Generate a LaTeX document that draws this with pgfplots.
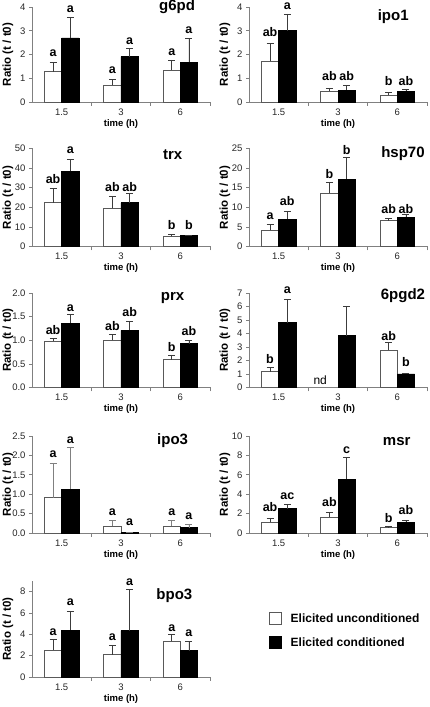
\documentclass[border=0pt]{standalone}
\usepackage{fontspec}
\setmainfont{Liberation Sans}
\usepackage{pgfplots}
\pgfplotsset{compat=1.18}
\definecolor{axgray}{RGB}{128,128,128}
\definecolor{errgray}{RGB}{60,60,60}
\pgfplotsset{
  panel/.style={
    scale only axis, width=178pt,
    xmin=0.5, xmax=3.5, ymin=0,
    axis x line*=bottom, axis y line*=left,
    axis line style={draw=axgray, line width=0.7pt, -},
    xtick={1,2,3}, xticklabels={1.5,3,6},
    major x tick style={draw=none},
    minor xtick={1.5,2.5,3.5},
    minor tick length=4pt, major tick length=3pt,
    tick align=outside,
    tick style={draw=axgray, line width=0.7pt},
    tick label style={font=\fontsize{9.5}{10}\selectfont, text=black!85},
    /pgf/number format/assume math mode=true,
    xlabel={time (h)},
    ylabel={Ratio (t / t0)},
    xlabel style={font=\bfseries\fontsize{9.5}{10}\selectfont, at={(axis description cs:0.5,0)}, anchor=center, yshift=-22pt},
    ylabel style={font=\bfseries\fontsize{11.5}{12}\selectfont, at={(axis description cs:-0.135,0.5)}, anchor=center},
    title style={font=\bfseries\fontsize{15}{16}\selectfont, anchor=center},
    clip=false,
  },
  ebar/.style={
    error bars/y dir=plus, error bars/y explicit,
    error bars/error bar style={#1, line width=0.6pt},
    error bars/error mark options={rotate=90, #1, mark size=3.5pt, line width=0.6pt}},
  wbar/.style={ybar, bar shift=0pt, bar width=0.29, fill=white, draw=black!65, line width=0.6pt, ebar=#1},
  wbar/.default=errgray,
  bbar/.style={ybar, bar shift=0pt, bar width=0.29, fill=black, draw=black, line width=0.6pt, ebar=#1},
  bbar/.default=errgray,
  lett/.style={only marks, mark=none, forget plot, nodes near coords, point meta=explicit symbolic,
    nodes near coords style={font=\bfseries\fontsize{12.5}{13}\selectfont, inner sep=0pt, text=black}},
}
\begin{document}
\begin{tikzpicture}
\path[use as bounding box] (0pt,0pt) rectangle (430pt,707pt);

% ---------- g6pd ----------
\begin{axis}[panel, at={(32pt,605pt)}, anchor=south west, height=95pt, ymax=4, ytick={0,1,2,3,4},
  title={g6pd}, title style={at={(axis description cs:0.815,0.937)}}]
\addplot[wbar] coordinates {(0.855,1.28) +- (0,0.38) (1.855,0.71) +- (0,0.25) (2.855,1.35) +- (0,0.42)};
\addplot[bbar] coordinates {(1.145,2.70) +- (0,0.85) (2.145,1.91) +- (0,0.33) (3.145,1.67) +- (0,1.01)};
\addplot[lett] coordinates {(0.855,1.91) [a] (1.145,3.75) [a] (1.855,1.18) [a] (2.145,2.40) [a] (2.855,1.94) [a] (3.145,2.86) [a]};
\end{axis}

% ---------- ipo1 ----------
\begin{axis}[panel, at={(249pt,605pt)}, anchor=south west, height=95pt, ymax=4, ytick={0,1,2,3,4},
  title={ipo1}, title style={at={(axis description cs:0.81,0.84)}}]
\addplot[wbar] coordinates {(0.855,1.73) +- (0,0.74) (1.855,0.46) +- (0,0.13) (2.855,0.29) +- (0,0.11)};
\addplot[bbar] coordinates {(1.145,3.00) +- (0,0.71) (2.145,0.50) +- (0,0.20) (3.145,0.45) +- (0,0.07)};
\addplot[lett] coordinates {(0.855,2.75) [ab] (1.145,3.89) [a] (1.855,0.89) [ab] (2.145,0.89) [ab] (2.855,0.70) [b] (3.145,0.70) [ab]};
\end{axis}

% ---------- trx ----------
\begin{axis}[panel, at={(32pt,460.5pt)}, anchor=south west, height=98pt, ymax=50, ytick={0,10,20,30,40,50},
  title={trx}, title style={at={(axis description cs:0.79,0.88)}}]
\addplot[wbar] coordinates {(0.855,22.3) +- (0,7.4) (1.855,19.4) +- (0,6.0) (2.855,5.2) +- (0,0.8)};
\addplot[bbar] coordinates {(1.145,38.3) +- (0,6.4) (2.145,22.3) +- (0,4.8) (3.145,5.5) +- (0,0.4)};
\addplot[lett] coordinates {(0.855,32.0) [ab] (1.145,47.2) [a] (1.855,27.7) [ab] (2.145,27.7) [ab] (2.855,8.6) [b] (3.145,8.6) [b]};
\end{axis}

% ---------- hsp70 ----------
\begin{axis}[panel, at={(249pt,460.5pt)}, anchor=south west, height=98pt, ymax=25, ytick={0,5,10,15,20,25},
  title={hsp70}, title style={at={(axis description cs:0.865,0.89)}}]
\addplot[wbar] coordinates {(0.855,4.2) +- (0,1.5) (1.855,13.6) +- (0,2.7) (2.855,6.6) +- (0,0.6)};
\addplot[bbar] coordinates {(1.145,7.0) +- (0,2.0) (2.145,17.2) +- (0,5.5) (3.145,7.5) +- (0,0.7)};
\addplot[lett] coordinates {(0.855,6.8) [a] (1.145,10.3) [ab] (1.855,17.2) [b] (2.145,23.3) [b] (2.855,8.3) [ab] (3.145,8.3) [ab]};
\end{axis}

% ---------- prx ----------
\begin{axis}[panel, at={(32pt,319.5pt)}, anchor=south west, height=94.5pt, ymax=2, ytick={0,0.5,1,1.5,2},
  yticklabel style={/pgf/number format/fixed, /pgf/number format/precision=1, /pgf/number format/fixed zerofill},
  title={prx}, title style={at={(axis description cs:0.79,0.88)}}]
\addplot[wbar] coordinates {(0.855,0.98) +- (0,0.06) (1.855,1.00) +- (0,0.12) (2.855,0.59) +- (0,0.10)};
\addplot[bbar] coordinates {(1.145,1.36) +- (0,0.19) (2.145,1.21) +- (0,0.20) (3.145,0.93) +- (0,0.06)};
\addplot[lett] coordinates {(0.855,1.11) [ab] (1.145,1.61) [a] (1.855,1.21) [ab] (2.145,1.50) [ab] (2.855,0.75) [b] (3.145,1.09) [ab]};
\end{axis}

% ---------- 6pgd2 ----------
\begin{axis}[panel, at={(249pt,319.5pt)}, anchor=south west, height=94.5pt, ymax=7, ytick={0,1,2,3,4,5,6,7},
  title={6pgd2}, title style={at={(axis description cs:0.865,0.905)}}]
\addplot[wbar] coordinates {(0.855,1.17) +- (0,0.29) (2.855,2.76) +- (0,0.58)};
\addplot[bbar] coordinates {(1.145,4.80) +- (0,1.74) (2.145,3.83) +- (0,2.19) (3.145,1.00) +- (0,0.05)};
\addplot[lett] coordinates {(0.855,1.78) [b] (1.145,6.95) [a] (2.855,3.46) [ab] (3.145,1.54) [b]};
\addplot[lett, nodes near coords style={font=\mdseries\fontsize{12}{13}\selectfont}] coordinates {(1.70,0.17) [nd]};
\end{axis}

% ---------- ipo3 ----------
\begin{axis}[panel, at={(32pt,174pt)}, anchor=south west, height=97pt, ymax=2.5, ytick={0,0.5,1,1.5,2,2.5},
  yticklabel style={/pgf/number format/fixed, /pgf/number format/precision=1, /pgf/number format/fixed zerofill},
  title={ipo3}, title style={at={(axis description cs:0.79,0.89)}}]
\addplot[wbar=black!50] coordinates {(0.855,0.91) +- (0,0.88) (1.855,0.17) +- (0,0.16) (2.855,0.17) +- (0,0.17)};
\addplot[bbar=black!50] coordinates {(1.145,1.13) +- (0,1.08) (2.145,0.01) +- (0,0) (3.145,0.14) +- (0,0.08)};
\addplot[lett] coordinates {(0.855,1.94) [a] (1.145,2.31) [a] (1.855,0.43) [a] (2.145,0.19) [a] (2.855,0.44) [a] (3.145,0.33) [a]};
\end{axis}

% ---------- msr ----------
\begin{axis}[panel, at={(249pt,174pt)}, anchor=south west, height=97pt, ymax=10, ytick={0,2,4,6,8,10},
  title={msr}, title style={at={(axis description cs:0.83,0.88)}}]
\addplot[wbar] coordinates {(0.855,1.13) +- (0,0.42) (1.855,1.65) +- (0,0.51) (2.855,0.55) +- (0,0.17)};
\addplot[bbar] coordinates {(1.145,2.50) +- (0,0.42) (2.145,5.53) +- (0,2.30) (3.145,1.13) +- (0,0.17)};
\addplot[lett] coordinates {(0.855,2.16) [ab] (1.145,3.44) [ac] (1.855,2.68) [ab] (2.145,8.18) [c] (2.855,1.07) [b] (3.145,1.92) [ab]};
\end{axis}

% ---------- bpo3 ----------
\begin{axis}[panel, at={(32pt,30pt)}, anchor=south west, height=96pt, ymax=9, ytick={0,2,4,6,8},
  title={bpo3}, title style={at={(axis description cs:0.80,0.79)}},
  legend style={at={(axis description cs:1.331,0.677)}, anchor=north west, draw=none, fill=none, inner sep=0pt,
    font=\bfseries\fontsize{12}{13}\selectfont, row sep=11pt, nodes={inner sep=0pt, anchor=base west},
    /tikz/every odd column/.append style={column sep=9pt}},
  legend cell align=left,
  legend image code/.code={\draw[#1] (0pt,-2pt) rectangle (12pt,10pt);}]
\addplot[wbar] coordinates {(0.855,2.54) +- (0,0.96) (1.855,2.10) +- (0,0.85) (2.855,3.35) +- (0,0.62)};
\addlegendentry{Elicited unconditioned}
\addplot[bbar] coordinates {(1.145,4.40) +- (0,1.80) (2.145,4.34) +- (0,3.88) (3.145,2.48) +- (0,0.84)};
\addlegendentry{Elicited conditioned}
\addplot[lett] coordinates {(0.855,3.88) [a] (1.145,6.67) [a] (1.855,3.41) [a] (2.145,8.53) [a] (2.855,4.25) [a] (3.145,3.81) [a]};
\end{axis}
\end{tikzpicture}
\end{document}
